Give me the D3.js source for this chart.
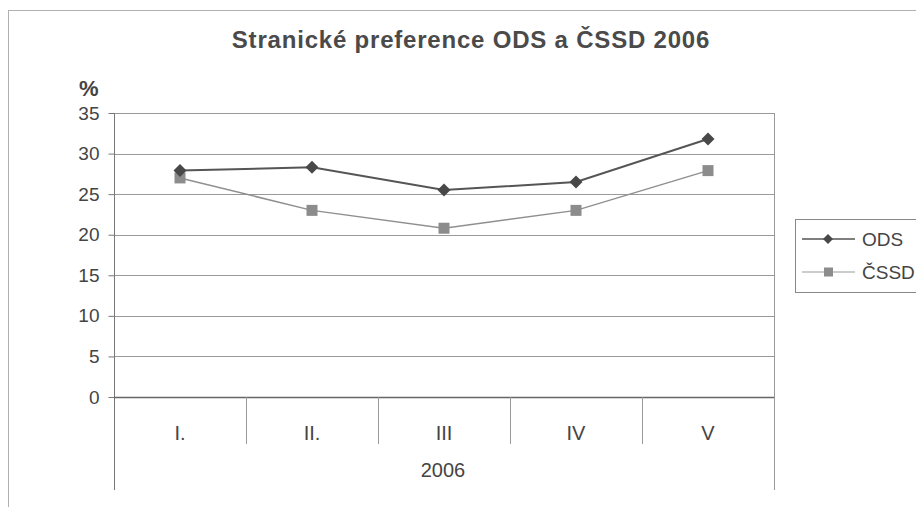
<!DOCTYPE html>
<html><head><meta charset="utf-8">
<script src="https://cdn.jsdelivr.net/npm/d3@7"></script>
<style>body{margin:0;background:#fff}svg{display:block}text{font-family:"Liberation Sans",Arial,sans-serif}</style>
</head><body>
<script>
const categories = ["I.", "II.", "III", "IV", "V"];
const odsValues = [27.9, 28.3, 25.5, 26.5, 31.8];
const cssdValues = [27.0, 23.0, 20.8, 23.0, 27.9];
const yTicks = [0, 5, 10, 15, 20, 25, 30, 35];
const seriesNames = ["ODS", "ČSSD"];
const groupLabel = "2006";
const titleText = "Stranické preference ODS a ČSSD 2006";

const W = 916, H = 507;
const svg = d3.select("body").append("svg").attr("width", W).attr("height", H);

// chart border
svg.append("rect").attr("x", 8.5).attr("y", 10.5).attr("width", 1000).attr("height", 1000)
  .attr("fill", "none").attr("stroke", "#b0b0b0").attr("stroke-width", 1);

const pL = 114, pR = 774, pT = 113, pB = 397;
const x = d3.scaleBand().domain(categories).range([pL, pR]);
const y = d3.scaleLinear().domain([0, 35]).range([pB, pT]);

// gridlines
svg.append("g").selectAll("line").data(yTicks.filter(d => d > 0)).join("line")
  .attr("x1", pL).attr("x2", pR).attr("y1", d => Math.round(y(d)) + 0.5).attr("y2", d => Math.round(y(d)) + 0.5)
  .attr("stroke", "#9a9a9a").attr("stroke-width", 1);

// y axis
const yAxis = d3.axisLeft(y).tickValues(yTicks).tickSize(6).tickPadding(9);
const gy = svg.append("g").attr("transform", `translate(${pL + 0.5},0)`).call(yAxis);
gy.select(".domain").remove();
gy.selectAll(".tick line").attr("stroke", "#777");
gy.selectAll(".tick text").attr("font-size", 19).attr("fill", "#444").attr("font-family", "Liberation Sans, Arial, sans-serif");
svg.append("line").attr("x1", pL + 0.5).attr("x2", pL + 0.5).attr("y1", pT).attr("y2", 490).attr("stroke", "#777");
svg.append("line").attr("x1", pR + 0.5).attr("x2", pR + 0.5).attr("y1", pT).attr("y2", 490).attr("stroke", "#999");
svg.append("line").attr("x1", pL).attr("x2", pR).attr("y1", pB + 0.5).attr("y2", pB + 0.5).attr("stroke", "#666").attr("stroke-width", 1.3);

// category dividers
svg.append("g").selectAll("line").data(categories.slice(1)).join("line")
  .attr("x1", d => Math.round(x(d)) + 0.5).attr("x2", d => Math.round(x(d)) + 0.5)
  .attr("y1", pB).attr("y2", 444).attr("stroke", "#999");

// category labels
svg.append("g").selectAll("text").data(categories).join("text")
  .attr("x", d => x(d) + x.bandwidth() / 2).attr("y", 440).attr("text-anchor", "middle")
  .attr("font-size", 20).attr("fill", "#444").text(d => d);
svg.append("text").attr("x", (pL + pR) / 2 - 1).attr("y", 477).attr("text-anchor", "middle")
  .attr("font-size", 20).attr("fill", "#444").text(groupLabel);

// % label
svg.append("text").attr("x", 79).attr("y", 96).attr("font-size", 22).attr("font-weight", "bold").attr("fill", "#444").text("%");

// title
svg.append("text").attr("x", 471).attr("y", 48).attr("text-anchor", "middle")
  .attr("font-size", 24).attr("font-weight", "bold").attr("letter-spacing", 0.8).attr("fill", "#4a4a4a").text(titleText);

const cx = d => x(d) + x.bandwidth() / 2;
const line = d3.line().x((d, i) => cx(categories[i])).y(d => y(d));
const diamondPath = r => `M0,${-r}L${r},0L0,${r}L${-r},0Z`;

// CSSD
svg.append("path").datum(cssdValues).attr("d", line).attr("fill", "none").attr("stroke", "#8f8f8f").attr("stroke-width", 1.5);
svg.append("g").selectAll("rect").data(cssdValues).join("rect")
  .attr("x", (d, i) => cx(categories[i]) - 5.5).attr("y", d => y(d) - 5.5).attr("width", 11).attr("height", 11).attr("fill", "#8c8c8c");
// ODS
svg.append("path").datum(odsValues).attr("d", line).attr("fill", "none").attr("stroke", "#555").attr("stroke-width", 2);
svg.append("g").selectAll("path").data(odsValues).join("path")
  .attr("d", diamondPath(6.5)).attr("transform", (d, i) => `translate(${cx(categories[i])},${y(d)})`).attr("fill", "#484848");

// legend
const lg = svg.append("g");
lg.append("rect").attr("x", 795.5).attr("y", 219.5).attr("width", 200).attr("height", 73).attr("fill", "#fff").attr("stroke", "#888");
const items = [{name: seriesNames[0], y: 239, c: "#555", w: 1.6}, {name: seriesNames[1], y: 272, c: "#999", w: 1.2}];
items.forEach((it, i) => {
  lg.append("line").attr("x1", 802).attr("x2", 855).attr("y1", it.y).attr("y2", it.y).attr("stroke", it.c).attr("stroke-width", it.w);
  if (i === 0) lg.append("path").attr("d", diamondPath(5)).attr("transform", `translate(828,${it.y})`).attr("fill", "#484848");
  else lg.append("rect").attr("x", 824).attr("y", it.y - 4.5).attr("width", 9).attr("height", 9).attr("fill", "#8c8c8c");
  lg.append("text").attr("x", 862).attr("y", it.y + 7).attr("font-size", 19).attr("fill", "#444").text(it.name);
});
</script>
</body></html>
